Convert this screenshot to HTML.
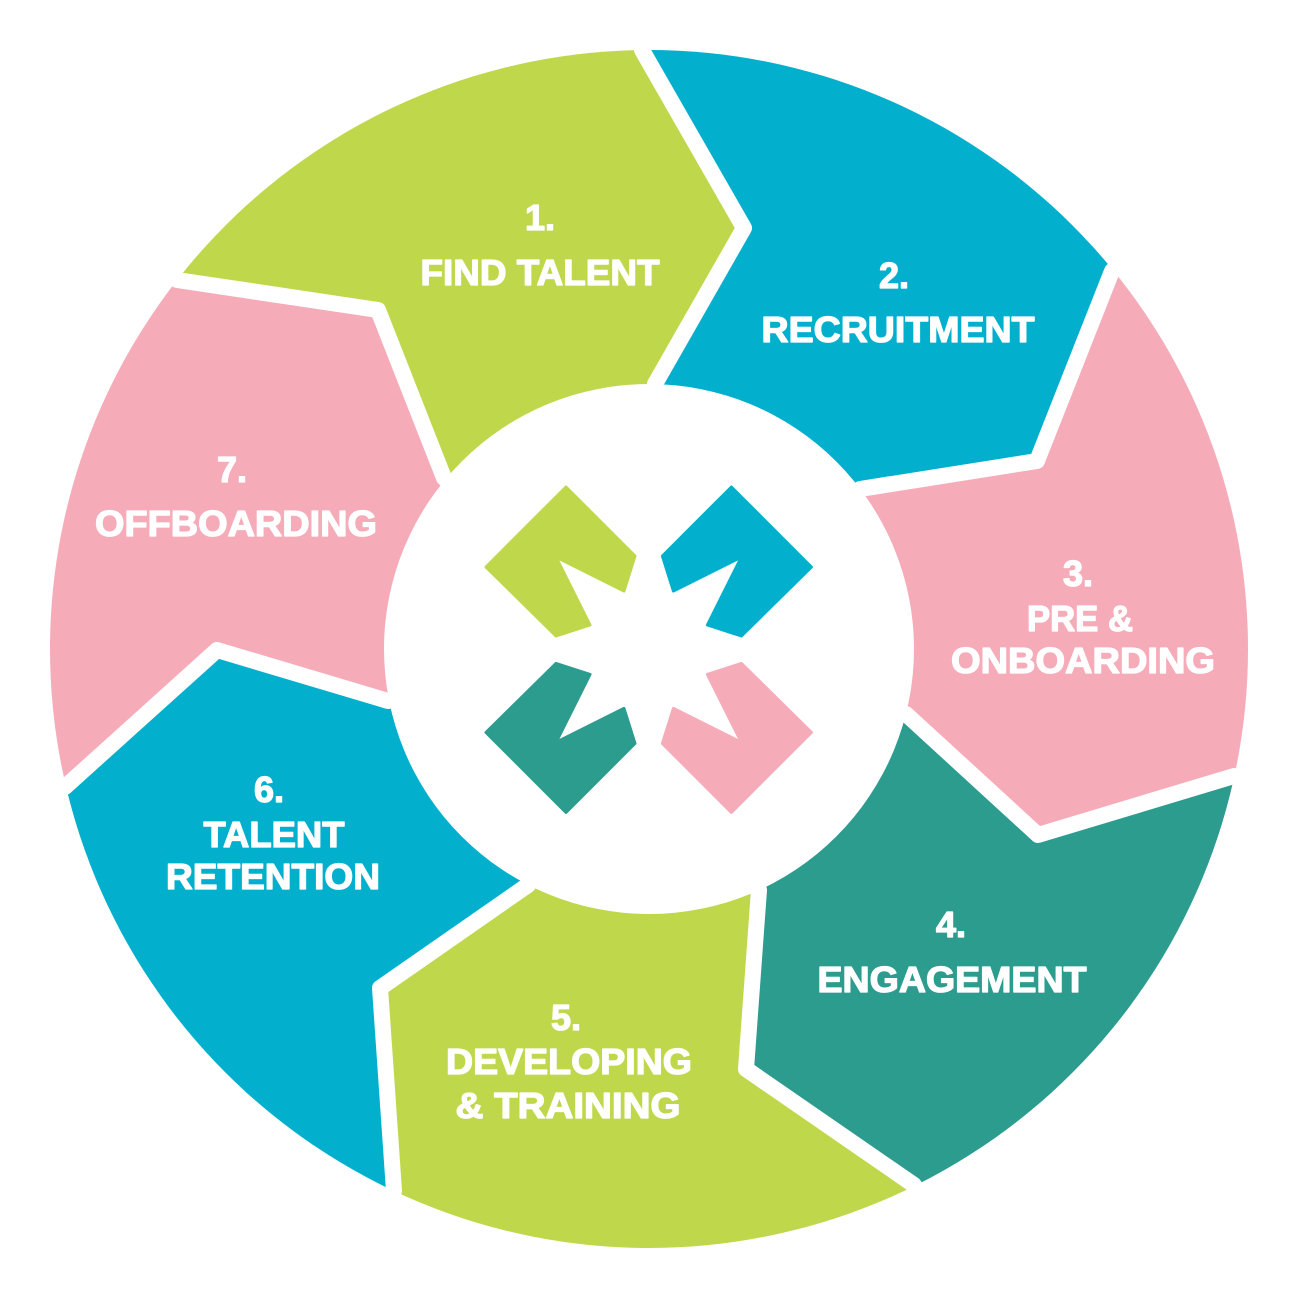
<!DOCTYPE html>
<html>
<head>
<meta charset="utf-8">
<style>
  html, body { margin: 0; padding: 0; background: #ffffff; width: 1299px; height: 1299px; overflow: hidden; }
  svg { display: block; position: absolute; left: 0; top: 0; }
  text { font-family: "Liberation Sans", "DejaVu Sans", sans-serif; font-weight: bold; fill: #ffffff; stroke: #ffffff; stroke-width: 1.3px; stroke-linejoin: round; }
</style>
</head>
<body>
<svg width="1299" height="1299" viewBox="0 0 1299 1299" xmlns="http://www.w3.org/2000/svg">
  <defs>
    <clipPath id="outer">
      <circle cx="649" cy="649" r="599"/>
    </clipPath>
  </defs>
  <rect x="0" y="0" width="1299" height="1299" fill="#ffffff"/>
  <g clip-path="url(#outer)">
    <polygon fill="#BFD84B" points="649,649 444,478 378,310 177,280 145,255 361,72 641,9 642,50 744,228 655,384"/>
    <polygon fill="#02B0CE" points="649,649 655,384 744,228 642,50 641,9 922,64 1145,244 1112,271 1037,461 860,489"/>
    <polygon fill="#F5ABB8" points="649,649 860,489 1037,461 1112,271 1145,244 1276,498 1274,785 1234,776 1038,835 906,714"/>
    <polygon fill="#2C9C8F" points="649,649 906,714 1038,835 1234,776 1274,785 1157,1046 933,1223 914,1185 746,1069 759,890"/>
    <polygon fill="#BFD84B" points="649,649 759,890 746,1069 914,1185 933,1223 655,1294 377,1228 394,1191 380,988 528,885"/>
    <polygon fill="#02B0CE" points="649,649 528,885 380,988 394,1191 377,1228 148,1055 26,796 65,787 217,650 388,701"/>
    <polygon fill="#F5ABB8" points="649,649 388,701 217,650 65,787 26,796 19,509 145,255 177,280 378,310 444,478"/>
  </g>
  <g fill="none" stroke="#ffffff" stroke-width="16" stroke-linejoin="round">
    <polyline points="145,255 177,280 378,310 444,478 649,649"/>
    <polyline points="641,9 642,50 744,228 655,384 649,649"/>
    <polyline points="1145,244 1112,271 1037,461 860,489 649,649"/>
    <polyline points="1274,785 1234,776 1038,835 906,714 649,649"/>
    <polyline points="933,1223 914,1185 746,1069 759,890 649,649"/>
    <polyline points="377,1228 394,1191 380,988 528,885 649,649"/>
    <polyline points="26,796 65,787 217,650 388,701 649,649"/>
  </g>
  <circle cx="649" cy="649" r="265" fill="#ffffff"/>

  <g stroke-linejoin="round" stroke-width="3">
    <polygon fill="#BFD84B" stroke="#BFD84B" points="566,487 635,556 624,591 556,557 590,625 556,636 486,567"/>
    <polygon fill="#02B0CE" stroke="#02B0CE" points="731.4,487 662.4,556 673.4,591 741.4,557 707.4,625 741.4,636 811.4,567"/>
    <polygon fill="#2C9C8F" stroke="#2C9C8F" points="566,812.4 635,743.4 624,708.4 556,742.4 590,674.4 556,663.4 486,732.4"/>
    <polygon fill="#F5ABB8" stroke="#F5ABB8" points="731.4,812.4 662.4,743.4 673.4,708.4 741.4,742.4 707.4,674.4 741.4,663.4 811.4,732.4"/>
  </g>

  <g font-size="36" text-anchor="middle">
    <text x="540" y="230">1.</text>
    <text x="540" y="285" textLength="239" lengthAdjust="spacingAndGlyphs">FIND TALENT</text>

    <text x="894" y="288">2.</text>
    <text x="898" y="342" textLength="273" lengthAdjust="spacingAndGlyphs">RECRUITMENT</text>

    <text x="1078" y="586">3.</text>
    <text x="1080" y="631" textLength="106" lengthAdjust="spacingAndGlyphs">PRE &amp;</text>
    <text x="1083" y="673" textLength="264" lengthAdjust="spacingAndGlyphs">ONBOARDING</text>

    <text x="951" y="937">4.</text>
    <text x="952" y="992" textLength="269" lengthAdjust="spacingAndGlyphs">ENGAGEMENT</text>

    <text x="566" y="1030">5.</text>
    <text x="569" y="1074" textLength="246" lengthAdjust="spacingAndGlyphs">DEVELOPING</text>
    <text x="568" y="1118" textLength="225" lengthAdjust="spacingAndGlyphs">&amp; TRAINING</text>

    <text x="269" y="802">6.</text>
    <text x="274" y="847" textLength="141" lengthAdjust="spacingAndGlyphs">TALENT</text>
    <text x="273" y="889" textLength="214" lengthAdjust="spacingAndGlyphs">RETENTION</text>

    <text x="232" y="482">7.</text>
    <text x="236" y="536" textLength="282" lengthAdjust="spacingAndGlyphs">OFFBOARDING</text>
  </g>
</svg>
</body>
</html>
